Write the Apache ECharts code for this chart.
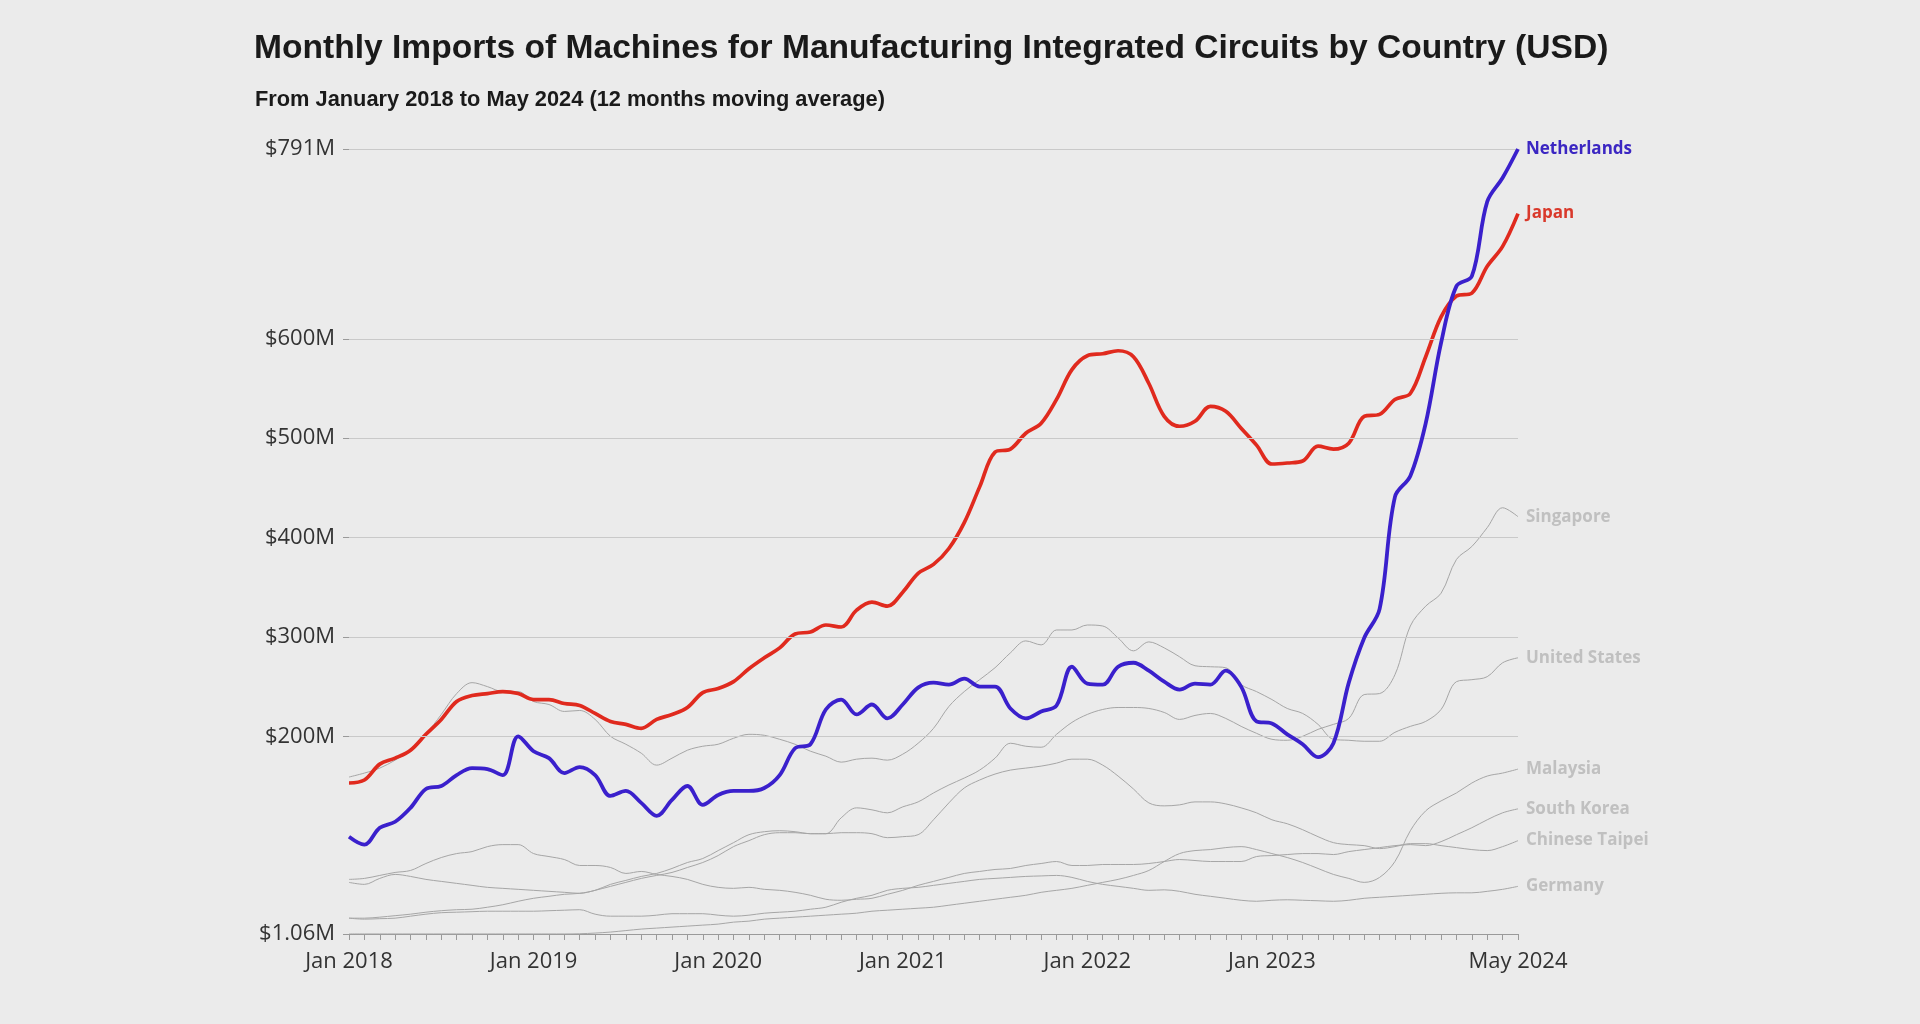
<!DOCTYPE html>
<html>
<head>
<meta charset="utf-8">
<script src="https://cdn.jsdelivr.net/npm/echarts@6/dist/echarts.min.js"></script>
<style>
html,body{margin:0;padding:0;background:#ebebeb;}
#chart{width:1920px;height:1024px;}
</style>
</head>
<body>
<div id="chart"></div>
<script>
// ---- Data (USD millions, 12-month moving average) ----
const monthNames = ['Jan','Feb','Mar','Apr','May','Jun','Jul','Aug','Sep','Oct','Nov','Dec'];
const years = [2018, 2019, 2020, 2021, 2022, 2023, 2024];
const months = [];
years.forEach(y => monthNames.forEach((m, k) => { if (y < 2024 || k <= 4) months.push(m + ' ' + y); }));

const xTickLabels = ['Jan 2018', 'Jan 2019', 'Jan 2020', 'Jan 2021', 'Jan 2022', 'Jan 2023', 'May 2024'];
const yTicks = [1.06, 200, 300, 400, 500, 600, 791];
const gridValues = [200, 300, 400, 500, 600, 791];

const netherlands = [99,91,108,114,128,147,150,161,168,167,161,200,185,178,163,169,161,140,145,133,120,136,150,131,141,145,145,148,161,188,192,227,237,222,232,218,232,249,254,252,258,250,250,228,218,225,231,270,253,252,270,274,266,255,247,253,252,266,250,215,213,202,192,179,193,254,299,328,441,462,515,596,653,663,738,762,791];
const japan = [153,156,172,178,186,202,217,235,241,243,245,243,237,237,233,231,223,215,212,208,217,222,229,244,248,255,268,279,289,303,305,312,310,327,335,331,345,364,373,389,415,451,486,489,505,515,539,569,583,585,588,582,555,522,512,517,532,527,510,493,474,475,477,492,489,495,522,524,539,545,582,622,643,646,673,693,726];
const singapore = [17,17,18,19.5,21,23,24.5,25.5,26,28,30.5,34,37,39,41,42,45,51,55,59,62,67,73,77,85,93,101,104,105,104,102,102,118,128,126,123,129,134,143,151,158,166,178,193,190,189,202,214,222,227,229,229,228,224,217,221,223,218,210,203,197,196,200,207,212,218,242,243,262,311,331,344,378,391,410,430,421];
const unitedStates = [159,163,168,176,186,202,222,243,254,250,245,245,235,232,225,226,217,200,192,183,171,178,186,190,192,198,202,201,197,192,185,180,174,177,178,176,182,193,208,230,245,257,269,284,296,292,307,307,312,311,299,286,295,289,280,271,270,269,252,245,237,228,223,212,197,196,195,195,204,210,215,227,255,257,260,274,279];
const malaysia = [1.1,1.1,1.1,1.1,1.1,1.1,1.1,1.1,1.1,1.1,1.1,1.1,1.1,1.1,1.1,1.3,2,3,4.5,6,7,8,9,10,11,13,14,16,17,18,19,20,21,22,24,25,26,27,28,30,32,34,36,38,40,43,45,47,50,53,56,60,65,74,82,85,86,88,89,86,82,78,73,67,61,57,53,58,74,105,125,135,143,153,160,163,167];
const southKorea = [56,57,60,63,65,72,78,82,84,89,91,91,82,79,76,70,70,68,62,64,61,59,56,51,48,47,48,46,45,43,40,36,35,36,37,41,45,50,54,58,62,64,66,67,70,72,74,70,70,71,71,71,72,74,76,75,74,74,74,79,80,81,82,82,81,84,86,88,90,91,90,94,101,108,116,123,127];
const chineseTaipei = [53,51,57,61,59,56,54,52,50,48,47,46,45,44,43,42,45,49,53,57,60,63,68,73,80,89,95,101,103,103,102,102,103,103,102,98,99,101,116,133,148,156,162,166,168,170,173,177,177,171,160,147,133,130,131,134,134,132,128,123,116,112,106,99,93,91,90,87,89,92,92,90,88,86,85,89,95];
const germany = [17,16,16.5,17,19,21,22.5,23,23.5,24,24,24,24,24.5,25,25.5,21,19,19,19,20,21.5,21.5,21.5,20,19,20,22,23,24,26,28,33,37,40,45,47,48,50,52,54,56,57,58,59,59.5,60,58,54,51,49,47,45,45.5,44,41,39,37,35,34,35,35.5,35,34.5,34,35,37,38,39,40,41,42,42.5,42.5,44,46,49];

const greySeries = [
  ['Singapore', singapore],
  ['United States', unitedStates],
  ['Malaysia', malaysia],
  ['South Korea', southKorea],
  ['Chinese Taipei', chineseTaipei],
  ['Germany', germany]
];

// ---- Chart ----
const chart = echarts.init(document.getElementById('chart'), null, {renderer: 'canvas'});
const labelFont = 'Open Sans';

const series = greySeries.map(([name, data], idx) => ({
  name, type: 'line', data, smooth: 0.35, symbol: 'none', z: 2,
  lineStyle: {color: '#a6a6a6', width: 1},
  endLabel: {show: true, formatter: '{a}', color: '#c0c0c0', fontFamily: labelFont,
             fontWeight: 'bold', fontSize: 17, distance: 8},
  markLine: idx === 0 ? {
    silent: true, symbol: 'none', animation: false,
    lineStyle: {color: '#c9c9c9', width: 1.2, type: 'solid'},
    label: {show: false},
    data: gridValues.map(v => ({yAxis: v}))
  } : undefined
}));

series.push({
  name: 'Japan', type: 'line', data: japan, smooth: 0.35, symbol: 'none', z: 4,
  lineStyle: {color: '#e02a1e', width: 3.7},
  endLabel: {show: true, formatter: '{a}', color: '#d9392b', fontFamily: labelFont,
             fontWeight: 'bold', fontSize: 17, distance: 8}
});
series.push({
  name: 'Netherlands', type: 'line', data: netherlands, smooth: 0.35, symbol: 'none', z: 5,
  lineStyle: {color: '#3a20cc', width: 3.8},
  endLabel: {show: true, formatter: '{a}', color: '#3b26c2', fontFamily: labelFont,
             fontWeight: 'bold', fontSize: 17, distance: 8}
});

chart.setOption({
  backgroundColor: '#ebebeb',
  animation: false,
  title: [
    {text: 'Monthly Imports of Machines for Manufacturing Integrated Circuits by Country (USD)',
     left: 249, top: 27, padding: 5,
     textStyle: {fontFamily: 'Liberation Sans', fontWeight: 'bold', fontSize: 33.6, color: '#1a1a1a'}},
    {text: 'From January 2018 to May 2024 (12 months moving average)',
     left: 250, top: 84, padding: 5,
     textStyle: {fontFamily: 'Liberation Sans', fontWeight: 'bold', fontSize: 21.8, color: '#1a1a1a'}}
  ],
  grid: {left: 349, right: 402, top: 149, bottom: 90, containLabel: false},
  xAxis: {
    type: 'category', data: months, boundaryGap: false,
    axisLine: {show: true, lineStyle: {color: '#9a9a9a', width: 1}},
    axisTick: {show: true, interval: 0, length: 6, lineStyle: {color: '#9a9a9a'}},
    axisLabel: {
      interval: (idx, val) => xTickLabels.indexOf(val) >= 0,
      color: '#333', fontFamily: labelFont, fontSize: 22, margin: 17
    },
    splitLine: {show: false}
  },
  yAxis: {
    type: 'value', min: 1.06, max: 791,
    axisLine: {show: false},
    axisTick: {show: true, length: 6, customValues: yTicks, lineStyle: {color: '#9a9a9a'}},
    axisLabel: {
      customValues: yTicks, color: '#333', fontFamily: labelFont, fontSize: 22, margin: 14,
      formatter: v => '$' + (Math.abs(v - 1.06) < 1e-6 ? '1.06' : Math.round(v)) + 'M'
    },
    splitLine: {show: false}
  },
  series
});
</script>
</body>
</html>
